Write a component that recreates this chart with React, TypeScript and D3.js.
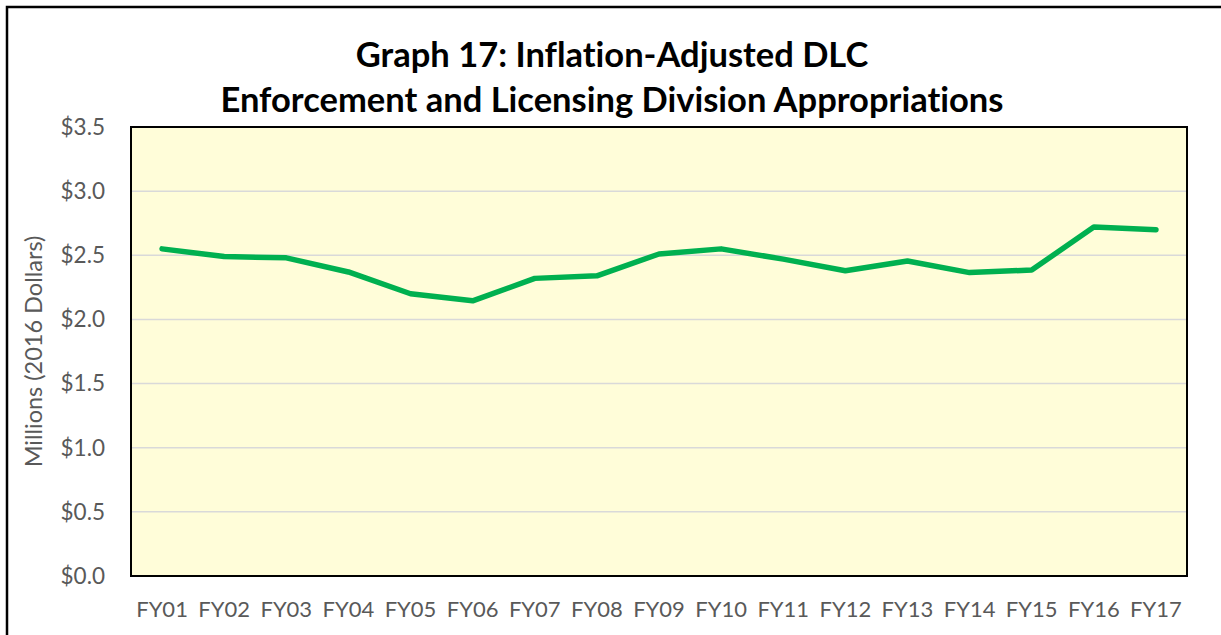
import React from "react";
import * as d3 from "d3";

const categories = ["FY01","FY02","FY03","FY04","FY05","FY06","FY07","FY08","FY09","FY10","FY11","FY12","FY13","FY14","FY15","FY16","FY17"];
const values = [2.55, 2.49, 2.48, 2.37, 2.20, 2.145, 2.32, 2.34, 2.51, 2.55, 2.47, 2.38, 2.455, 2.365, 2.385, 2.72, 2.70];
const yTicks = [0, 0.5, 1.0, 1.5, 2.0, 2.5, 3.0, 3.5];
const titleLines = ["Graph 17: Inflation-Adjusted DLC", "Enforcement and Licensing Division Appropriations"];
const yAxisTitle = "Millions (2016 Dollars)";

const W = 1221, H = 635;
const plot = { left: 131, right: 1187, top: 127, bottom: 576 };
const FONT = "Lato, 'Open Sans', sans-serif";

export default function App() {
  const x = d3.scaleBand<string>().domain(categories).range([plot.left, plot.right]);
  const y = d3.scaleLinear().domain([0, 3.5]).range([plot.bottom, plot.top]);
  const line = d3.line<number>()
    .x((_, i) => (x(categories[i]) as number) + x.bandwidth() / 2)
    .y(d => y(d));
  const fmt = (v: number) => "$" + d3.format(".1f")(v);
  const noLig = { fontVariantLigatures: "none" as const };
  return (
    <svg width={W} height={H} style={{ position: "absolute", left: 0, top: 0, background: "#fff" }}>
      <rect x={7} y={7} width={W + 20} height={H + 20} fill="#fff" stroke="#000" strokeWidth={2.5} />
      {titleLines.map((t, i) => (
        <text key={i} x={612} y={67 + i * 45} textAnchor="middle" fontFamily={FONT} fontWeight="bold" fontSize={34.5} fill="#000" style={noLig}>{t}</text>
      ))}
      <rect x={plot.left} y={plot.top} width={plot.right - plot.left} height={plot.bottom - plot.top} fill="#FFFDD9" />
      {yTicks.filter(t => t > 0 && t < 3.5).map(t => (
        <line key={t} x1={plot.left} x2={plot.right} y1={y(t)} y2={y(t)} stroke="#d9d9d9" strokeWidth={1.5} />
      ))}
      <rect x={plot.left} y={plot.top} width={plot.right - plot.left} height={plot.bottom - plot.top} fill="none" stroke="#000" strokeWidth={2} />
      {yTicks.map(t => (
        <text key={t} x={105} y={y(t)} dy="0.35em" textAnchor="end" fontFamily={FONT} fontSize={22.5} fill="#595959">{fmt(t)}</text>
      ))}
      {categories.map(c => (
        <text key={c} x={(x(c) as number) + x.bandwidth() / 2} y={617} textAnchor="middle" fontFamily={FONT} fontSize={22} fill="#595959">{c}</text>
      ))}
      <text transform={`translate(42, ${(plot.top + plot.bottom) / 2}) rotate(-90)`} textAnchor="middle" fontFamily={FONT} fontSize={23.5} fill="#595959">{yAxisTitle}</text>
      <path d={line(values) || ""} fill="none" stroke="#00B050" strokeWidth={5.5} strokeLinejoin="round" strokeLinecap="round" />
    </svg>
  );
}
